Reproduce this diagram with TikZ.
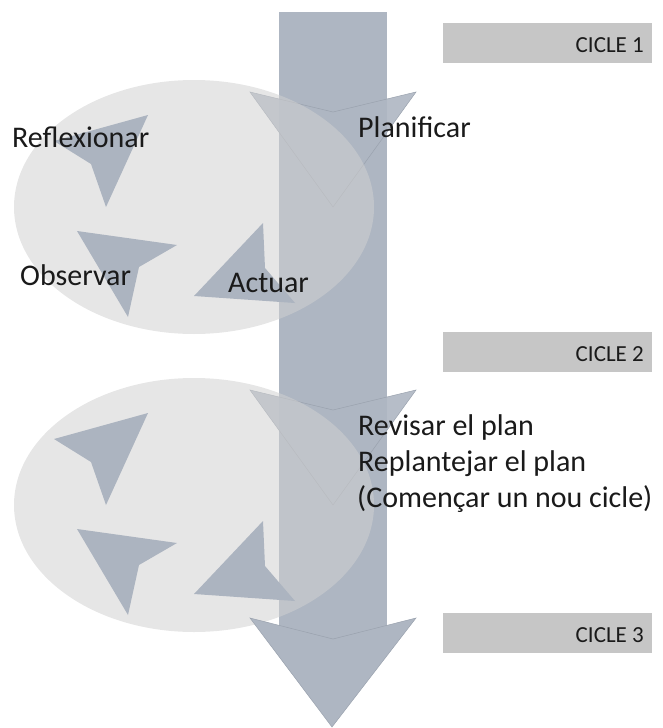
\documentclass[tikz,border=0pt]{standalone}
\usepackage{fontspec}
\setmainfont{Carlito}
\definecolor{barc}{HTML}{AEB6C2}
\definecolor{tric}{HTML}{ACB4C0}
\definecolor{ellc}{HTML}{D1D1D1}
\definecolor{boxc}{HTML}{C6C6C6}
\definecolor{txtc}{HTML}{1A1A1A}
\definecolor{edgec}{HTML}{9AA2AE}
\begin{document}
\begin{tikzpicture}[x=1pt,y=-1pt,
  bigtext/.style={inner sep=0pt,anchor=base west,text=txtc,font=\fontsize{30}{36}\selectfont},
  cycletext/.style={inner sep=0pt,anchor=base east,text=txtc,font=\fontsize{23}{28}\selectfont},
  cyclebox/.style={fill=boxc,draw=none,minimum width=209pt,minimum height=40pt,anchor=north west,inner sep=0pt},
  chev/.style={fill=barc,fill opacity=0.9,draw=edgec,line width=0.5pt},
  dart/.style={fill=tric,draw=none},
  cloud/.style={fill=ellc,fill opacity=0.54,draw=none}]
\useasboundingbox (0,0) rectangle (663,728);
% vertical bar
\fill[barc] (279,12) rectangle (387,648);
% chevrons
\foreach \dy in {0,298}{
  \draw[chev] (250,92+\dy) -- (333,112+\dy) -- (416,92+\dy) -- (333,207+\dy) -- cycle;
}
% ellipses
\foreach \dy in {0,298}{
  \fill[cloud] (194,207+\dy) ellipse [x radius=180, y radius=127];
}
% darts
\foreach \dy in {0,298}{
  \fill[dart] (148,115+\dy) -- (54,141+\dy) -- (91,164+\dy) -- (106,207+\dy) -- cycle;
  \fill[dart] (77,231+\dy) -- (177,245+\dy) -- (139,267+\dy) -- (128,317+\dy) -- cycle;
  \fill[dart] (263,223+\dy) -- (265,268+\dy) -- (295,303+\dy) -- (194,296+\dy) -- cycle;
}
% final arrowhead
\draw[fill=barc,draw=edgec,line width=0.5pt] (250,618) -- (333,639) -- (416,618) -- (332,727) -- cycle;
% cycle boxes
\node[cyclebox] (b1) at (443,23) {};
\node[cyclebox] (b2) at (443,332) {};
\node[cyclebox] (b3) at (443,613) {};
\node[cycletext] (c1) at (644,52) {CICLE 1};
\node[cycletext] (c2) at (644,361) {CICLE 2};
\node[cycletext] (c3) at (644,642) {CICLE 3};
% labels
\node[bigtext] (refl) at (12,147) {Reflexionar};
\node[bigtext] (plan) at (358,137) {Planificar};
\node[bigtext] (obs) at (20,285) {Observar};
\node[bigtext] (act) at (228,292) {Actuar};
\node[bigtext] (rev1) at (358,435) {Revisar el plan};
\node[bigtext] (rev2) at (358,471) {Replantejar el plan};
\node[bigtext] (rev3) at (357,507) {(Començar un nou cicle)};
\end{tikzpicture}
\end{document}
